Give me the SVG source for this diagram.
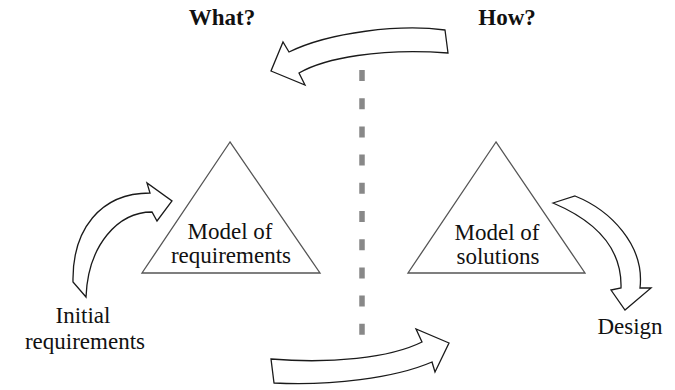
<svg xmlns="http://www.w3.org/2000/svg" width="675" height="390" viewBox="0 0 675 390">
<style>
.bg{fill:#ffffff}
.tri{fill:#ffffff;stroke:#555555;stroke-width:1.3}
.arr{fill:#ffffff;stroke:#1a1a1a;stroke-width:1.3;stroke-linejoin:miter}
.lbl{font-family:"Liberation Serif","Times New Roman",serif;font-size:23px;fill:#111111;text-anchor:middle}
.hdr{font-family:"Liberation Serif","Times New Roman",serif;font-size:23px;font-weight:bold;fill:#111111;text-anchor:middle}
.dash{stroke:#888888;stroke-width:5.5;stroke-dasharray:11 17.2;fill:none}
</style>
<rect class="bg" x="0" y="0" width="675" height="390"/>
<text class="hdr" x="222" y="25">What?</text>
<text class="hdr" x="507" y="25">How?</text>
<line class="dash" x1="362" y1="70" x2="362" y2="336"/>
<g id="model-requirements">
<polygon class="tri" points="230,142 142,273 320,273"/>
<text class="lbl" x="230" y="239">Model of</text>
<text class="lbl" x="231" y="263">requirements</text>
</g>
<g id="model-solutions">
<polygon class="tri" points="496,142 408,273 585,273"/>
<text class="lbl" x="497" y="240">Model of</text>
<text class="lbl" x="498" y="264">solutions</text>
</g>
<g id="initial-requirements">
<text class="lbl" x="83" y="323">Initial</text>
<text class="lbl" x="85" y="349">requirements</text>
</g>
<g id="design">
<text class="lbl" x="630" y="334">Design</text>
</g>
<g id="connectors">
<path class="arr" d="M445,30 C400,24 330,32 289,52 L283,42 L271,71 L305,85 L299,73 C325,58 380,48 448,53 Z"/>
<path class="arr" d="M73,282 C72,230 100,193 150,193 L147,183 L172,201 L157,221 L152,212 C118,212 88,245 86,297 Z"/>
<path class="arr" d="M553,203 L575,196 C610,210 645,245 640,288 L651,288 L625,310 L611,290 L621,288 C622,255 605,225 553,203 Z"/>
<path class="arr" d="M271,359 C330,364 390,358 422,342 L416,329 L449,343 L435,372 L432,362 C395,378 330,386 274,383 Z"/>
</g>
</svg>
